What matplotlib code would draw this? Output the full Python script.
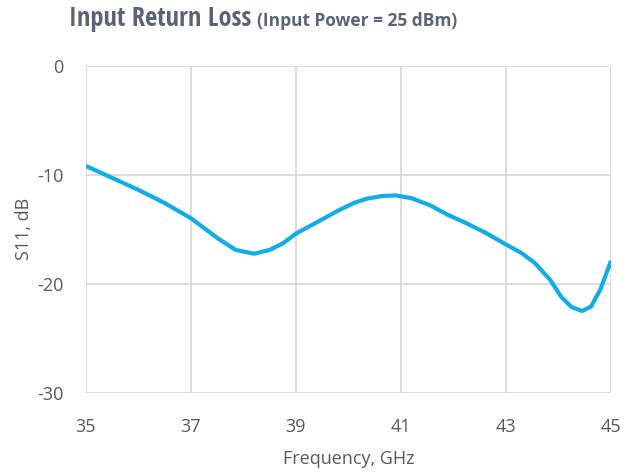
import numpy as np
import matplotlib
matplotlib.use("Agg")
import matplotlib.pyplot as plt

# values
freq = [35.0, 35.5, 36.0, 36.5, 37.0, 37.5, 37.85, 38.2, 38.5, 38.75, 39.0, 39.5,
        39.8, 40.1, 40.35, 40.65, 40.9, 41.2, 41.55, 41.9, 42.2, 42.6, 43.0, 43.3,
        43.55, 43.85, 44.05, 44.25, 44.45, 44.62, 44.8, 45.0]
s11 = [-9.2, -10.3, -11.4, -12.6, -14.0, -15.8, -16.9, -17.25, -16.9, -16.3, -15.4, -14.1,
       -13.3, -12.6, -12.2, -11.95, -11.9, -12.15, -12.8, -13.7, -14.35, -15.3, -16.4, -17.2,
       -18.1, -19.7, -21.2, -22.15, -22.5, -22.1, -20.5, -17.9]
xticks = [35, 37, 39, 41, 43, 45]
yticks = [0, -10, -20, -30]

plt.rcParams['font.family'] = ['Open Sans', 'DejaVu Sans']
plt.rcParams['axes.unicode_minus'] = False
text_col = '#595959'
grid_col = '#d9d9d9'

fig = plt.figure(figsize=(6.41, 4.72), dpi=100)
ax = fig.add_axes([86/641, 79.3/472, 525/641, 327/472])

ax.plot(freq, s11, color='#10ade6', lw=3.0, solid_joinstyle='round', solid_capstyle='butt', zorder=3)

ax.set_xlim(35, 45)
ax.set_ylim(-30, 0)
ax.set_xticks(xticks)
ax.set_yticks(yticks)
ax.grid(True, color=grid_col, lw=1.3)
for s in ax.spines.values():
    s.set_visible(False)
ax.tick_params(length=0, labelsize=13, colors=text_col, pad=16)
ax.tick_params(axis='x', pad=18)

ax.set_xlabel('Frequency, GHz', fontsize=13, color=text_col, labelpad=10)
ax.set_ylabel('S11, dB', fontsize=13, color=text_col)
ax.yaxis.set_label_coords(-0.101, 0.5)

fig.text(251/641, 1 - 26/472, 'Input Return Loss', ha='right', va='baseline',
         fontsize=19, fontweight='bold', color='#5b6377',
         family=['Open Sans Condensed', 'Open Sans'])
fig.text(257/641, 1 - 26/472, '(Input Power = 25 dBm)', ha='left', va='baseline',
         fontsize=12.5, fontweight='bold', color='#5b6377')

fig.savefig('out.png', dpi=100)
